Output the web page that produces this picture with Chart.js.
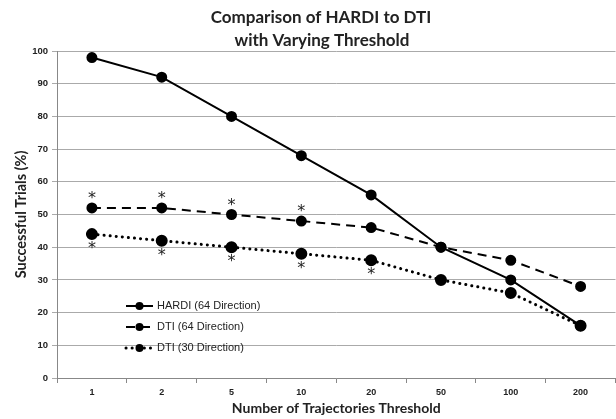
<!DOCTYPE html>
<html><head><meta charset="utf-8">
<script src="https://cdn.jsdelivr.net/npm/chart.js@4/dist/chart.umd.min.js"></script>
<style>html,body{margin:0;padding:0;background:#fff;overflow:hidden}#wrap{width:616px;height:419px;overflow:hidden}</style>
</head><body><div id="wrap"><canvas id="c" width="623" height="419"></canvas></div>
<script>
const categories = ['1','2','5','10','20','50','100','200'];
const hardi64 = [98, 92, 80, 68, 56, 40, 30, 16];
const dti64 = [52, 52, 50, 48, 46, 40, 36, 28];
const dti30 = [44, 42, 40, 38, 36, 30, 26, 16];
const dti64Star = [1, 1, 1, 1, 0, 0, 0, 0];   // asterisk above
const dti30Star = [1, 1, 1, 1, 1, 0, 0, 0];   // asterisk below
const seriesNames = ['HARDI (64 Direction)', 'DTI (64 Direction)', 'DTI (30 Direction)'];
const titleLines = ['Comparison of HARDI to DTI', 'with Varying Threshold'];

const titlePlugin = {
  id: 'myTitle',
  afterDraw(chart) {
    const ctx = chart.ctx;
    ctx.save();
    ctx.fillStyle = '#222';
    ctx.font = 'bold 17px Lato, "Open Sans", Arial';
    ctx.textAlign = 'center';
    ctx.textBaseline = 'middle';
    ctx.fillText(titleLines[0], 321, 18);
    ctx.fillText(titleLines[1], 322, 41);
    ctx.restore();
  }
};

const starPlugin = {
  id: 'stars',
  afterDatasetsDraw(chart) {
    const ctx = chart.ctx;
    ctx.save();
    ctx.fillStyle = '#222';
    ctx.font = '16px "DejaVu Sans", Arial';
    ctx.textAlign = 'center';
    ctx.textBaseline = 'middle';
    const m1 = chart.getDatasetMeta(1), m2 = chart.getDatasetMeta(2);
    dti64Star.forEach((s, i) => { if (s) { const p = m1.data[i]; ctx.fillText('*', p.x, p.y - 9); } });
    dti30Star.forEach((s, i) => { if (s) { const p = m2.data[i]; ctx.fillText('*', p.x, p.y + 15); } });
    ctx.restore();
  }
};

const legendPlugin = {
  id: 'inLegend',
  afterDraw(chart) {
    const ctx = chart.ctx;
    ctx.save();
    const x0 = 126, x1 = 153, tx = 157;
    const ys = [306, 327, 348];
    chart.data.datasets.forEach((ds, i) => {
      const y = ys[i];
      ctx.strokeStyle = '#000';
      ctx.lineWidth = ds.borderWidth;
      ctx.lineCap = ds.borderCapStyle || 'butt';
      ctx.setLineDash(ds.borderDash || []);
      ctx.beginPath(); ctx.moveTo(x0, y); ctx.lineTo(x1, y); ctx.stroke();
      ctx.setLineDash([]);
      ctx.fillStyle = '#000';
      ctx.beginPath(); ctx.arc((x0 + x1) / 2, y, 4, 0, Math.PI * 2); ctx.fill();
      ctx.font = '11px "Liberation Sans", Arial';
      ctx.fillStyle = '#222';
      ctx.textBaseline = 'middle';
      ctx.fillText(ds.label, tx, y);
    });
    ctx.restore();
  }
};

new Chart(document.getElementById('c'), {
  type: 'line',
  data: {
    labels: categories,
    datasets: [
      { label: seriesNames[0], data: hardi64, borderColor: '#000', backgroundColor: '#000', borderWidth: 2, pointRadius: 4.5, pointBackgroundColor: '#000', tension: 0 },
      { label: seriesNames[1], data: dti64, borderColor: '#000', backgroundColor: '#000', borderWidth: 2, borderDash: [9, 6], pointRadius: 4.5, pointBackgroundColor: '#000', tension: 0 },
      { label: seriesNames[2], data: dti30, borderColor: '#000', backgroundColor: '#000', borderWidth: 3, borderDash: [0.1, 6], borderCapStyle: 'round', pointRadius: 4.5, pointBackgroundColor: '#000', tension: 0 }
    ]
  },
  options: {
    responsive: false,
    animation: false,
    layout: { padding: { left: 0, right: 0, top: 51, bottom: 2 } },
    plugins: {
      legend: { display: false },
      tooltip: { enabled: false },
      title: { display: false }
    },
    scales: {
      x: {
        offset: true,
        grid: { display: true, drawOnChartArea: false, offset: true, color: '#888', tickLength: 5 },
        border: { color: '#888' },
        ticks: { color: '#222', font: { family: '"Liberation Sans", Arial', size: 9, weight: 'bold' }, padding: 4 },
        title: { display: true, text: 'Number of Trajectories Threshold', color: '#222', font: { family: 'Lato, "Open Sans", Arial', size: 14, weight: 'bold' }, padding: { top: 1, bottom: 0 } },
        afterFit(s) { s.height = 39; }
      },
      y: {
        min: 0, max: 100,
        ticks: { stepSize: 10, color: '#222', font: { family: '"Liberation Sans", Arial', size: 9.5, weight: 'bold' }, padding: 4 },
        grid: { color: '#aaa', tickLength: 5 },
        border: { color: '#888' },
        title: { display: true, text: 'Successful Trials (%)', color: '#222', font: { family: 'Lato, "Open Sans", Arial', size: 14.5, weight: 'bold' }, padding: { top: 13, bottom: 0 } },
        afterFit(s) { s.width = 57; }
      }
    }
  },
  plugins: [starPlugin, legendPlugin, titlePlugin]
});
</script>
</body></html>
